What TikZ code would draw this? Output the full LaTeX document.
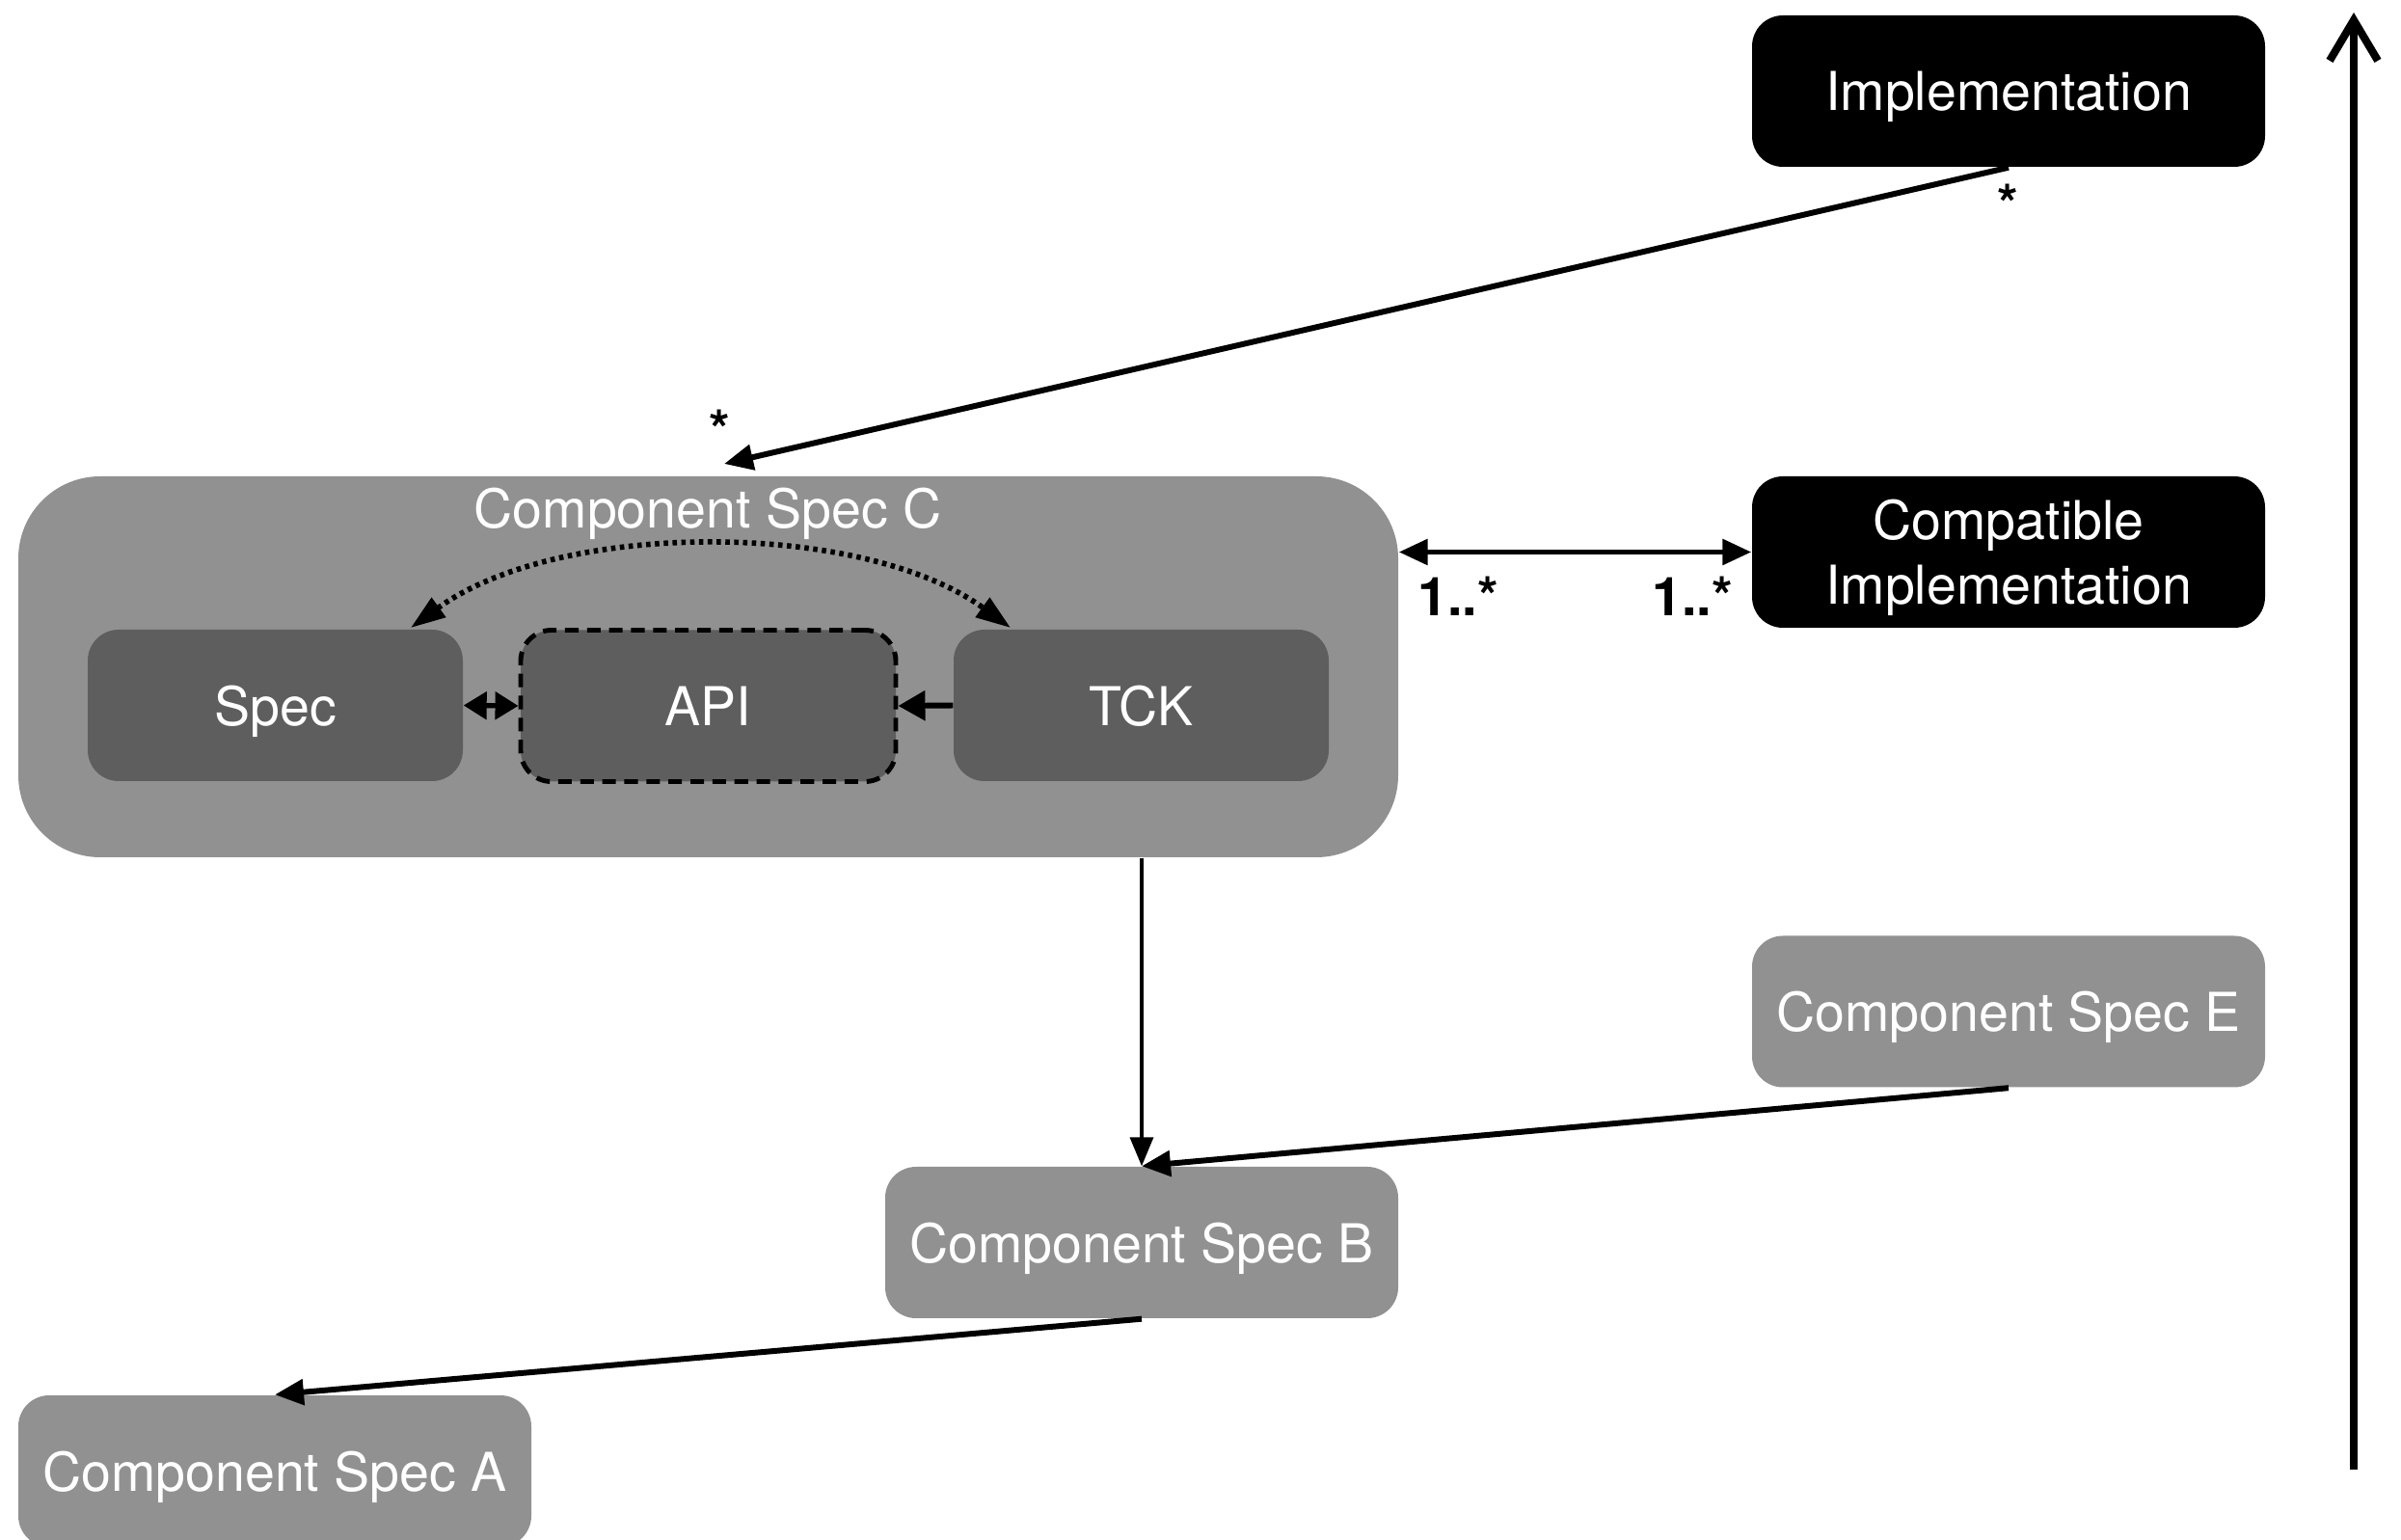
\documentclass[tikz,border=0pt]{standalone}
\usepackage{fontspec}
\setmainfont{TeX Gyre Heros}
\usetikzlibrary{arrows.meta}
\definecolor{cgray}{HTML}{919191}
\definecolor{cdark}{HTML}{5E5E5E}
\newcommand{\lblfont}{\fontsize{15.8}{19}\selectfont}
\tikzset{
  box/.style={rounded corners=0.32cm, minimum width=5.32cm, minimum height=1.57cm, text=white, font=\lblfont, align=center, inner sep=0pt, text depth=0pt},
  graybox/.style={box, fill=cgray},
  blackbox/.style={box, fill=black},
  innerbox/.style={box, fill=cdark, minimum width=3.89cm},
  tri/.tip={Triangle[length=3mm,width=2.6mm]},
  conn/.style={line width=1.7pt, -tri},
  mult/.style={font=\lblfont\bfseries, text=black, inner sep=0pt},
}
\begin{document}
\begin{tikzpicture}
\useasboundingbox (0,0) rectangle (24.9,-15.97);
% container C
\node[fill=cgray, rounded corners=0.85cm, minimum width=14.31cm, minimum height=3.95cm, inner sep=0pt] (C) at (7.345,-6.915) {};
\node[text=white, font=\lblfont, inner sep=0pt, text depth=0pt] (Ctitle) at (7.34,-5.27) {Component Spec C};
\node[innerbox] (spec) at (2.855,-7.315) {Spec};
\node[innerbox, draw=black, line width=1.4pt, dash pattern=on 4pt off 2.5pt] (api) at (7.345,-7.32) {API};
\node[innerbox] (tck) at (11.835,-7.315) {TCK};
% other nodes
\node[blackbox] (impl) at (20.83,-0.945) {Implementation};
\node[blackbox] (compat) at (20.83,-5.725) {Compatible\\Implementation};
\node[graybox] (E) at (20.83,-10.49) {Component Spec E};
\node[graybox] (B) at (11.84,-12.885) {Component Spec B};
\node[graybox] (A) at (2.85,-15.255) {Component Spec A};
% coordinates
\coordinate (ctip) at (7.51,-4.81);
\coordinate (specTop) at (4.26,-6.51);
\coordinate (tckTop) at (10.48,-6.51);
\coordinate (axisBot) at (24.41,-15.24);
\coordinate (axisTop) at (24.41,-0.13);
% connectors
\draw[conn] (impl.south) -- (ctip);
\draw[conn, tri-tri] (compat.west -| C.east) -- (compat.west);
\draw[line width=1pt, -{Triangle[length=3mm,width=2.4mm]}] (C.south -| B.north) -- (B.north);
\draw[conn] (E.south) -- (B.north);
\draw[conn] (B.south) -- (A.north);
\draw[line width=1.6pt, dash pattern=on 1.3pt off 1.3pt, {Triangle[length=3.6mm,width=2.4mm]}-{Triangle[length=3.6mm,width=2.4mm]}] (specTop) .. controls (5.8,-5.39) and (8.94,-5.39) .. (tckTop);
\draw[line width=1.5pt, {Triangle[length=2.4mm,width=2.8mm]}-{Triangle[length=2.4mm,width=2.8mm]}] (spec.east) -- (api.west);
\draw[line width=1.7pt, -{Triangle[length=2.8mm,width=3mm]}] (tck.west) -- (api.east);
\draw[line width=2.3pt, -{Straight Barb[length=4.2mm,width=5mm]}] (axisBot) -- (axisTop);
% multiplicities
\node[mult] (m1) at (20.82,-2.11) {*};
\node[mult] (m2) at (7.46,-4.45) {*};
\node[mult] (m3) at (15.12,-6.18) {1..*};
\node[mult] (m4) at (17.55,-6.18) {1..*};
\end{tikzpicture}
\end{document}
